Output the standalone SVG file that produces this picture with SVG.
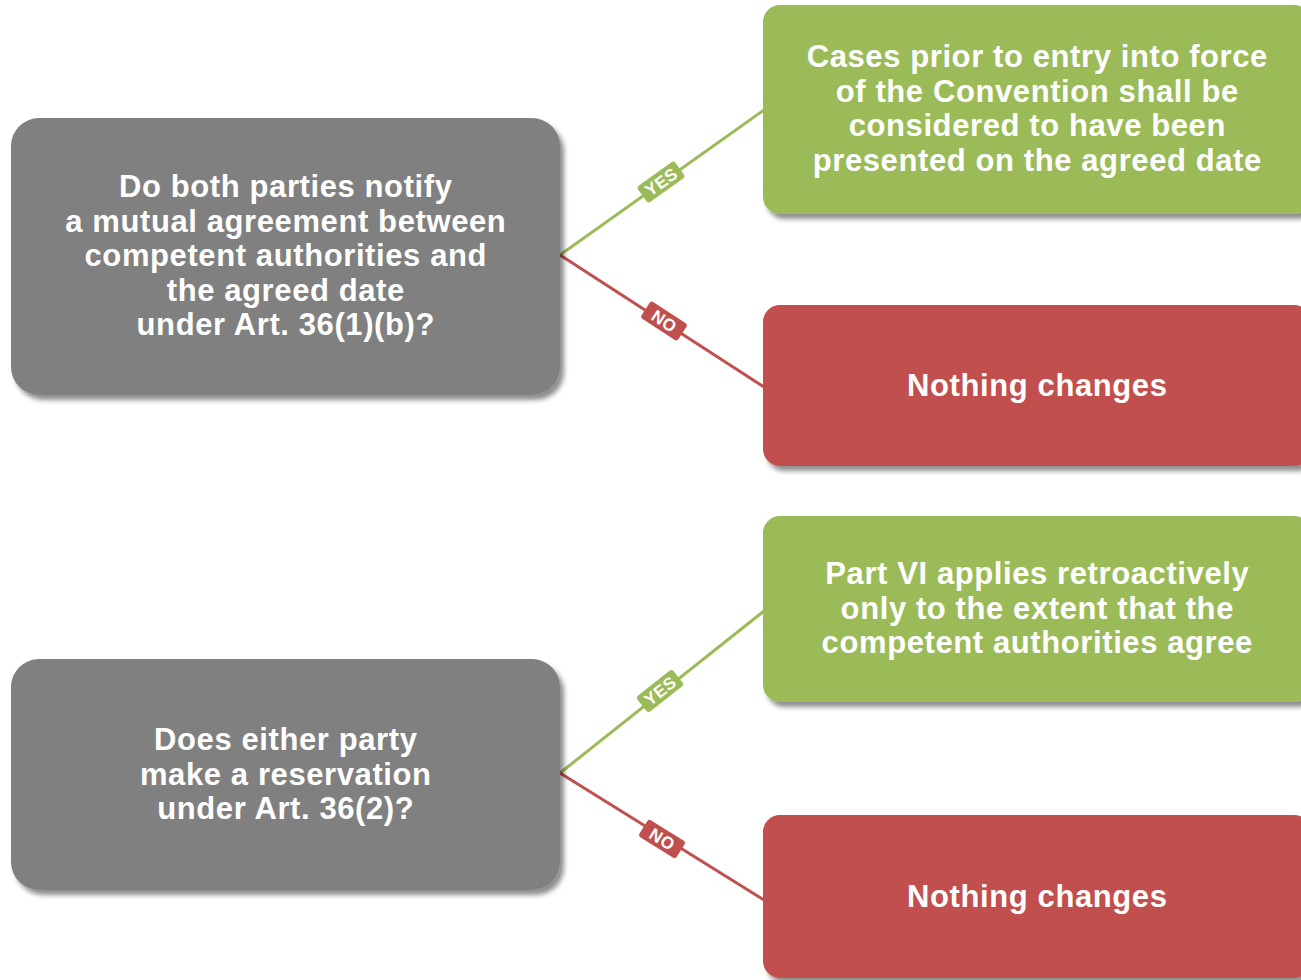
<svg xmlns="http://www.w3.org/2000/svg" width="1301" height="980" viewBox="0 0 1301 980">
  <defs>
    <filter id="shadow" x="-10%" y="-10%" width="130%" height="130%">
      <feGaussianBlur in="SourceAlpha" stdDeviation="2.5"/>
      <feOffset dx="4" dy="5" result="b"/>
      <feComponentTransfer><feFuncA type="linear" slope="0.45"/></feComponentTransfer>
      <feMerge><feMergeNode/><feMergeNode in="SourceGraphic"/></feMerge>
    </filter>
  </defs>
  <style>
    .q { fill: #808080; }
    .yes { fill: #9BBB59; }
    .no { fill: #C0504D; }
    .t { font-family: "Liberation Sans", Arial, sans-serif; font-weight: bold; font-size: 31px; letter-spacing: 0.6px; fill: #FFFFFF; text-anchor: middle; }
    .lt { font-family: "Liberation Sans", Arial, sans-serif; font-weight: bold; font-size: 17px; letter-spacing: 0.5px; fill: #FFFFFF; text-anchor: middle; }
    .ly { stroke: #9BBB59; stroke-width: 3; fill: none; }
    .ln { stroke: #C0504D; stroke-width: 3; fill: none; }
  </style>
  <rect width="1301" height="980" fill="#FFFFFF"/>

  <g id="connectors">
    <line class="ly" x1="560" y1="255" x2="764" y2="110"/>
    <line class="ln" x1="560" y1="255" x2="764" y2="387"/>
    <line class="ly" x1="560" y1="773" x2="764" y2="611"/>
    <line class="ln" x1="560" y1="773" x2="764" y2="900"/>
    <g transform="translate(661,182) rotate(-35.5)">
      <rect class="yes" x="-23" y="-10" width="46" height="20" rx="3"/>
      <text class="lt" x="0.3" y="6">YES</text>
    </g>
    <g transform="translate(664,321) rotate(33)">
      <rect class="no" x="-22" y="-10" width="44" height="20" rx="3"/>
      <text class="lt" x="0.3" y="6">NO</text>
    </g>
    <g transform="translate(660,691) rotate(-38.4)">
      <rect class="yes" x="-23" y="-10" width="46" height="20" rx="3"/>
      <text class="lt" x="0.3" y="6">YES</text>
    </g>
    <g transform="translate(662,839) rotate(32)">
      <rect class="no" x="-22" y="-10" width="44" height="20" rx="3"/>
      <text class="lt" x="0.3" y="6">NO</text>
    </g>
  </g>

  <g id="q1">
    <rect class="q" x="11" y="118" width="549" height="277" rx="28" filter="url(#shadow)"/>
    <text class="t" x="285.8" y="197">Do both parties notify</text>
    <text class="t" x="285.8" y="231.5">a mutual agreement between</text>
    <text class="t" x="285.8" y="266">competent authorities and</text>
    <text class="t" x="285.8" y="300.5">the agreed date</text>
    <text class="t" x="285.8" y="335">under Art. 36(1)(b)?</text>
  </g>

  <g id="yes1">
    <rect class="yes" x="763" y="5" width="548" height="209" rx="17" filter="url(#shadow)"/>
    <text class="t" x="1037.3" y="67">Cases prior to entry into force</text>
    <text class="t" x="1037.3" y="101.5">of the Convention shall be</text>
    <text class="t" x="1037.3" y="136">considered to have been</text>
    <text class="t" x="1037.3" y="170.5">presented on the agreed date</text>
  </g>

  <g id="no1">
    <rect class="no" x="763" y="305" width="548" height="161" rx="17" filter="url(#shadow)"/>
    <text class="t" x="1037.3" y="395.5">Nothing changes</text>
  </g>

  <g id="q2">
    <rect class="q" x="11" y="659" width="549" height="231" rx="28" filter="url(#shadow)"/>
    <text class="t" x="285.8" y="750">Does either party</text>
    <text class="t" x="285.8" y="784.5">make a reservation</text>
    <text class="t" x="285.8" y="819">under Art. 36(2)?</text>
  </g>

  <g id="yes2">
    <rect class="yes" x="763" y="516" width="548" height="186" rx="17" filter="url(#shadow)"/>
    <text class="t" x="1037.3" y="584">Part VI applies retroactively</text>
    <text class="t" x="1037.3" y="618.5">only to the extent that the</text>
    <text class="t" x="1037.3" y="653">competent authorities agree</text>
  </g>

  <g id="no2">
    <rect class="no" x="763" y="815" width="548" height="163" rx="17" filter="url(#shadow)"/>
    <text class="t" x="1037.3" y="906.5">Nothing changes</text>
  </g>
</svg>
